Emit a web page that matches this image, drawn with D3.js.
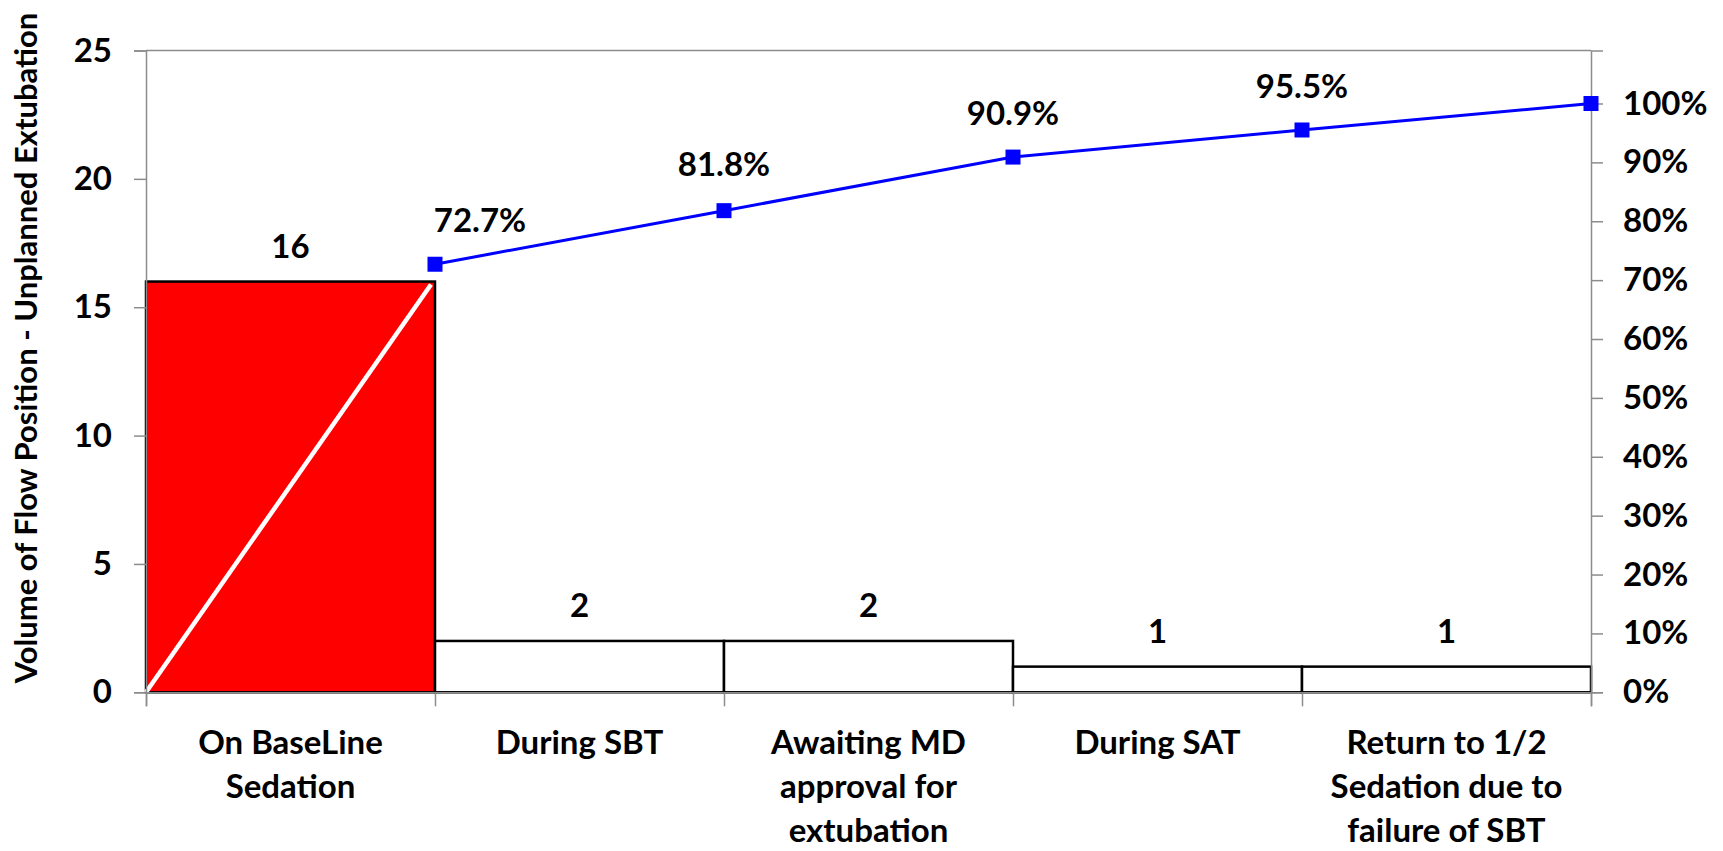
<!DOCTYPE html>
<html>
<head>
<meta charset="utf-8">
<script src="https://cdn.jsdelivr.net/npm/d3@7"></script>
<style>
  html, body { margin: 0; padding: 0; background: #fff; }
  svg { display: block; }
  text { font-family: Lato, "Open Sans", sans-serif; font-weight: 700; fill: #000; }
</style>
</head>
<body>
<svg id="chart" width="1723" height="851"></svg>
<script>
// Causes of unplanned extubation (Pareto)
const categories = [
  ["On BaseLine", "Sedation"],
  ["During SBT"],
  ["Awaiting MD", "approval for", "extubation"],
  ["During SAT"],
  ["Return to 1/2", "Sedation due to", "failure of SBT"]
];
const counts = [16, 2, 2, 1, 1];
const cumulativePct = [72.7, 81.8, 90.9, 95.5, 100];
const pctLabels = ["72.7%", "81.8%", "90.9%", "95.5%", ""];
const leftTicks = [0, 5, 10, 15, 20, 25];
const rightTicks = [0, 10, 20, 30, 40, 50, 60, 70, 80, 90, 100];
const yTitle = "Volume of Flow Position - Unplanned Extubation";

const svg = d3.select("#chart");
const plot = { left: 146, right: 1591, top: 50.5, bottom: 692.3 };
const axisGray = "#8c8c8c";

const keys = categories.map((c, i) => i);
const x = d3.scaleBand().domain(keys).range([plot.left, plot.right]).padding(0);
const y = d3.scaleLinear().domain([0, 25]).range([plot.bottom, plot.top]);
const y2 = d3.scaleLinear().domain([0, 109]).range([plot.bottom, plot.top]);

// plot area frame (top edge)
svg.append("line")
  .attr("x1", plot.left).attr("x2", plot.right)
  .attr("y1", plot.top).attr("y2", plot.top)
  .attr("stroke", axisGray).attr("stroke-width", 1.5);

// bars
svg.append("g").selectAll("rect")
  .data(counts)
  .join("rect")
  .attr("x", (d, i) => x(i))
  .attr("width", x.bandwidth())
  .attr("y", d => y(d))
  .attr("height", d => y(0) - y(d))
  .attr("fill", (d, i) => i === 0 ? "#ff0000" : "#ffffff")
  .attr("stroke", "#000")
  .attr("stroke-width", 2.5);

// diagonal guide inside the leading bar
svg.append("line")
  .attr("x1", x(0)).attr("y1", y(0))
  .attr("x2", x(0) + x.bandwidth() - 4).attr("y2", y(counts[0]) + 3)
  .attr("stroke", "#ffffff").attr("stroke-width", 4.5);

// bar value labels
svg.append("g").selectAll("text")
  .data(counts)
  .join("text")
  .attr("x", (d, i) => x(i) + x.bandwidth() / 2)
  .attr("y", d => y(d) - 24)
  .attr("text-anchor", "middle")
  .attr("font-size", 33)
  .text(d => d);

// left axis
const leftAxis = svg.append("g")
  .attr("transform", `translate(${plot.left},0)`)
  .call(d3.axisLeft(y).tickValues(leftTicks).tickSize(12).tickPadding(22).tickFormat(d3.format("d")));
leftAxis.select(".domain").attr("stroke", axisGray).attr("stroke-width", 1.5);
leftAxis.selectAll(".tick line").attr("stroke", axisGray).attr("stroke-width", 1.5);
leftAxis.selectAll(".tick text").attr("font-size", 33).attr("font-family", "Lato").attr("font-weight", 700).attr("fill", "#000");

// right axis
const rightAxis = svg.append("g")
  .attr("transform", `translate(${plot.right},0)`)
  .call(d3.axisRight(y2).tickValues(rightTicks).tickSize(12).tickPadding(20).tickFormat(d => d + "%"));
rightAxis.select(".domain").attr("stroke", axisGray).attr("stroke-width", 1.5);
rightAxis.selectAll(".tick line").attr("stroke", axisGray).attr("stroke-width", 1.5);
rightAxis.selectAll(".tick text").attr("font-size", 33).attr("font-family", "Lato").attr("font-weight", 700).attr("fill", "#000");

// bottom axis: ticks on category boundaries
const boundaries = keys.map(i => x(i)).concat([plot.right]);
const xb = d3.scaleLinear().domain([plot.left, plot.right]).range([plot.left, plot.right]);
const bottomAxis = svg.append("g")
  .attr("transform", `translate(0,${plot.bottom})`)
  .call(d3.axisBottom(xb).tickValues(boundaries).tickSize(14).tickFormat(""));
bottomAxis.select(".domain").attr("stroke", axisGray).attr("stroke-width", 1.5);
bottomAxis.selectAll(".tick line").attr("stroke", axisGray).attr("stroke-width", 1.5);

// category labels
const catG = svg.append("g").selectAll("text")
  .data(categories)
  .join("text")
  .attr("text-anchor", "middle")
  .attr("font-size", 33);
catG.each(function(lines, i) {
  d3.select(this).selectAll("tspan")
    .data(lines)
    .join("tspan")
    .attr("x", x(i) + x.bandwidth() / 2)
    .attr("y", (l, j) => 754 + j * 44)
    .text(l => l);
});

// cumulative percentage line
const pts = cumulativePct.map((p, i) => [x(i) + x.bandwidth(), y2(p)]);
svg.append("path")
  .attr("d", d3.line()(pts))
  .attr("fill", "none")
  .attr("stroke", "#0000ff")
  .attr("stroke-width", 3);
svg.append("g").selectAll("rect")
  .data(pts)
  .join("rect")
  .attr("x", d => d[0] - 7.5)
  .attr("y", d => d[1] - 7.5)
  .attr("width", 15).attr("height", 15)
  .attr("fill", "#0000ff");

// cumulative labels (first one nudged right of its marker)
svg.append("g").selectAll("text")
  .data(pctLabels)
  .join("text")
  .attr("x", (d, i) => pts[i][0] + (i === 0 ? 45 : 0))
  .attr("y", (d, i) => pts[i][1] - (i === 1 ? 35 : 32))
  .attr("text-anchor", "middle")
  .attr("font-size", 33)
  .text(d => d);

// left axis title
svg.append("text")
  .attr("transform", "translate(37,348) rotate(-90)")
  .attr("text-anchor", "middle")
  .attr("font-size", 31)
  .text(yTitle);
</script>
</body>
</html>
